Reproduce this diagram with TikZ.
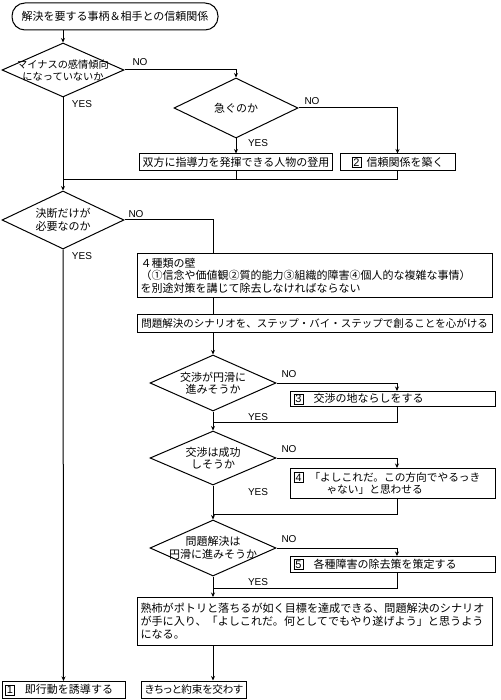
\documentclass[tikz,border=0pt]{standalone}
\usepackage{fontspec}
\setmainfont{Noto Sans CJK JP}
\newfontfamily\latin{Liberation Sans}
\usetikzlibrary{positioning, arrows.meta, shapes.geometric}

% 枠付き番号
\newcommand{\waku}[1]{{\setlength{\fboxsep}{0.8pt}\setlength{\fboxrule}{0.7pt}\fbox{\makebox[7pt]{\latin #1}}}}

\begin{document}
\begin{tikzpicture}[x=1pt, y=-1pt]
	% スタイルの定義
	\tikzset{
		sen/.style = {line width=1pt},
		ya/.style = {sen, -{Stealth[length=4.5pt, width=4pt]}},
		toi/.style = {align=center, inner sep=0pt, font=\fontsize{11}{12.5}\selectfont},
		kiten/.style = {diamond, draw, sen, inner sep=0pt},
		hako/.style = {rectangle, draw, sen, inner xsep=3pt, inner ysep=0pt,
			font=\fontsize{11}{12.6}\selectfont},
		hidari/.style = {hako, anchor=north west, text width=#1, align=left},
		kotae/.style = {inner sep=0pt, font=\latin\fontsize{10}{12}\selectfont}
	}
	\useasboundingbox[fill=white] (0,0) rectangle (500,700);
	\coordinate (nocol) at (397,0);

	% 上段
	\node[hako, rounded corners=13pt, minimum width=206pt, minimum height=27pt] (start) at (115,16.5) {解決を要する事柄＆相手との信頼関係};
	\node[kiten, minimum width=122pt, minimum height=54pt,
		label={[toi, font=\fontsize{10.2}{12}\selectfont]center:{マイナスの感情傾向\\になっていないか}}] (q1) at (63,70) {};
	\node[kiten, minimum width=124pt, minimum height=60pt,
		label={[toi]center:{急ぐのか}}] (q2) at (236,108) {};
	\node[hako, minimum width=193pt, minimum height=17pt] (a1) at (236,162.5) {双方に指導力を発揮できる人物の登用};
	\node[hako, minimum width=115pt, minimum height=17pt] (a2) at (397.5,162.5) {\waku{2}\hspace{5pt}信頼関係を築く};
	\coordinate (gou) at (63,180);

	% 中段
	\node[kiten, minimum width=122pt, minimum height=58pt,
		label={[toi]center:{決断だけが\\必要なのか}}] (q3) at (63,220) {};
	\node[hidari=349pt, minimum height=44pt] (b1) at (137,253) {４種類の壁\\（①信念や価値観②質的能力③組織的障害④個人的な複雑な事情）\\を別途対策を講じて除去しなければならない};
	\node[hako, minimum width=355pt, minimum height=18pt, font=\fontsize{10.5}{12}\selectfont] (b2) at (314.5,323.5) {問題解決のシナリオを、ステップ・バイ・ステップで創ることを心がける};

	% 右側の分岐
	\node[kiten, minimum width=126pt, minimum height=56pt,
		label={[toi]center:{交渉が円滑に\\進みそうか}}] (q4) at (213,383) {};
	\node[hidari=199pt, minimum height=15pt] (r3) at (290,391) {\waku{3}\hspace{10pt}交渉の地ならしをする};
	\node[kiten, minimum width=126pt, minimum height=54pt,
		label={[toi]center:{交渉は成功\\しそうか}}] (q5) at (213,458) {};
	\node[hidari=199pt, minimum height=30pt, font=\fontsize{10.7}{12.6}\selectfont] (r4) at (290,468) {\waku{4}\hspace{6pt}「よしこれだ。この方向でやるっき\\\hspace*{33pt}ゃない」と思わせる};
	\node[kiten, minimum width=126pt, minimum height=56pt,
		label={[toi]center:{問題解決は\\円滑に進みそうか}}] (q6) at (213,548) {};
	\node[hidari=199pt, minimum height=16pt] (r5) at (290,556) {\waku{5}\hspace{10pt}各種障害の除去策を策定する};

	% 下段
	\node[hidari=349pt, minimum height=48pt, font=\fontsize{11.1}{13}\selectfont] (fin) at (137,597) {熟柿がポトリと落ちるが如く目標を達成できる、問題解決のシナリオ\\が手に入り、「よしこれだ。何としてでもやり遂げよう」と思うよう\\になる。};
	\node[hidari=117pt, minimum height=17pt] (k1) at (1.5,681) {\waku{1}\hspace{10pt}即行動を誘導する};
	\node[hako, minimum width=92pt, minimum height=17pt,
		font=\fontsize{10.6}{12}\selectfont\addfontfeature{RawFeature=+palt}] (k2) at (194,689.5) {きちっと約束を交わす};

	% YES / NO
	\foreach \n/\x/\y/\t in {no1/140/62/NO, yes1/82/104/YES, no2/312/101/NO, yes2/258/143/YES,
		no3/136/214/NO, yes3/82/256/YES, no4/289/374/NO, yes4/258/417/YES,
		no5/289/449/NO, yes5/258/492/YES, no6/289/539/NO, yes6/258/582/YES} {
		\node[kotae] (\n) at (\x,\y) {\t};
	}

	% 接続線
	\draw[ya] (start.south -| q1.north) -- (q1.north);
	\draw[ya] (q1.east) -| (q2.north);
	\draw[ya] (q2.east) -| (a2.north);
	\draw[ya] (q2.south) -- (a1.north);
	\draw[sen] (a2.south) |- (gou);
	\draw[sen] (a1.south) -- (a1.south |- gou);
	\draw[ya] (q1.south) -- (q3.north);
	\draw[sen] (q3.east) -| (b1.north -| q4.north);
	\draw[ya] (q3.south) -- (k1.north);
	\draw[sen] (b1.south -| q4.north) -- (b2.north -| q4.north);
	\draw[ya] (b2.south -| q4.north) -- (q4.north);
	\foreach \q/\r in {q4/r3, q5/r4, q6/r5} {
		\draw[ya] (\q.east) -| (\r.north -| nocol);
		\draw[sen] (\r.south -| nocol) -- ++(0,15) -| (\q.south);
	}
	\draw[ya] (q4.south) -- (q5.north);
	\draw[ya] (q5.south) -- (q6.north);
	\draw[ya] (q6.south) -- (fin.north -| q6.south);
	\draw[ya] (fin.south -| q6.south) -- (k2.north -| q6.south);
\end{tikzpicture}
\end{document}
